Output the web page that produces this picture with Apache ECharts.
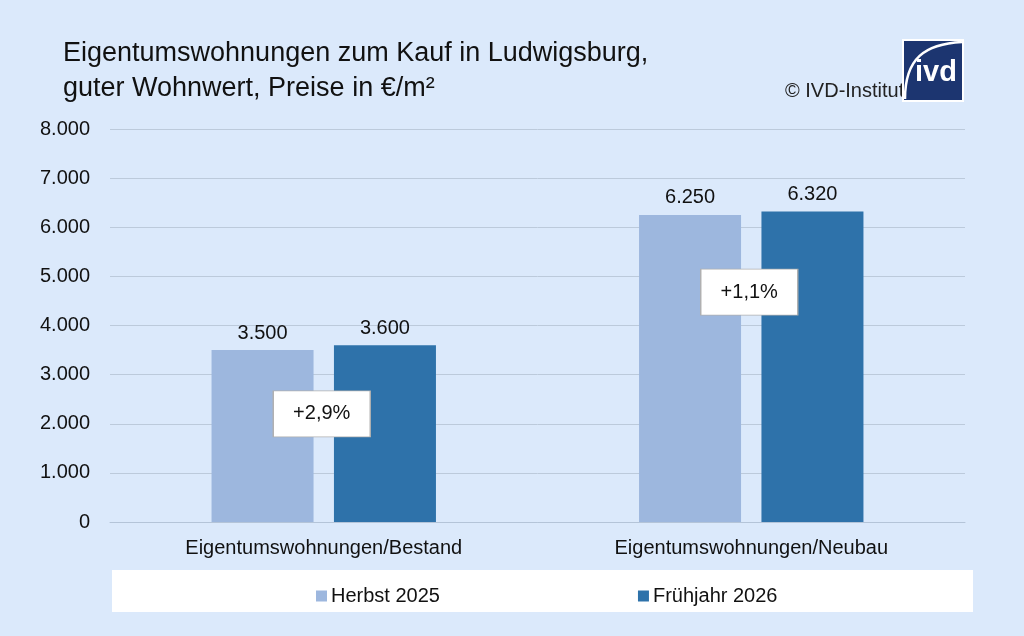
<!DOCTYPE html>
<html>
<head>
<meta charset="utf-8">
<script src="https://cdn.jsdelivr.net/npm/echarts@6/dist/echarts.min.js"></script>
<style>
html, body { margin: 0; padding: 0; background: #dbe9fb; }
#main { width: 1024px; height: 636px; }
</style>
</head>
<body>
<div id="main"></div>
<script>
// Kategorien und Werte
var categories = ['Eigentumswohnungen/Bestand', 'Eigentumswohnungen/Neubau'];
var seriesNames = ['Herbst 2025', 'Frühjahr 2026'];
var herbst = [3500, 6250];
var fruehjahr = [3600, 6320];
// Veränderung, Position der Kästchen (Wert auf der y-Achse)
var changeLabels = ['+2,9%', '+1,1%'];
var changeAt = [2200, 4680];

var FONT = 'Liberation Sans, Arial, sans-serif';

//Tausenderpunkt
function fmt(v) {
    return String(v).replace(/\B(?=(\d{3})+(?!\d))/g, '.');
}

var myChart = echarts.init(document.getElementById('main'));

var boxes = [];
for (var i = 0; i < categories.length; i++) {
    boxes.push({ coord: [categories[i], changeAt[i]], value: changeLabels[i] });
}

var option = {
    backgroundColor: '#dbe9fb',
    textStyle: { fontFamily: FONT },
    title: {
        text: 'Eigentumswohnungen zum Kauf in Ludwigsburg,\nguter Wohnwert, Preise in €/m²',
        left: 58,
        top: 31,
        textStyle: { fontFamily: FONT, fontSize: 27, fontWeight: 'normal', color: '#111', lineHeight: 35 }
    },
    grid: { left: 110, right: 59, top: 129, bottom: 114 },
    legend: {
        data: seriesNames,
        left: 311,
        top: 581,
        itemWidth: 11,
        itemHeight: 11,
        itemGap: 198,
        icon: 'rect',
        textStyle: { fontFamily: FONT, fontSize: 20, color: '#111', padding: [0, 0, 0, -1] }
    },
    xAxis: {
        type: 'category',
        data: categories,
        axisTick: { show: false },
        axisLine: { lineStyle: { color: '#b4c4d8', width: 1 } },
        axisLabel: { fontFamily: FONT, fontSize: 20, color: '#111', margin: 16 }
    },
    yAxis: {
        type: 'value',
        min: 0,
        max: 8000,
        interval: 1000,
        axisLine: { show: false },
        axisTick: { show: false },
        axisLabel: { fontFamily: FONT, fontSize: 20, color: '#111', margin: 20, formatter: fmt },
        splitLine: { lineStyle: { color: '#bccadb', width: 1 } }
    },
    series: [
        {
            name: seriesNames[0],
            type: 'bar',
            data: herbst,
            barWidth: 102,
            barGap: '20%',
            itemStyle: { color: '#9db7de' },
            label: { show: true, position: 'top', distance: 7, fontFamily: FONT, fontSize: 20, color: '#111', formatter: function (p) { return fmt(p.value); } }
        },
        {
            name: seriesNames[1],
            type: 'bar',
            data: fruehjahr,
            barWidth: 102,
            barGap: '20%',
            itemStyle: { color: '#2e72aa' },
            label: { show: true, position: 'top', distance: 7, fontFamily: FONT, fontSize: 20, color: '#111', formatter: function (p) { return fmt(p.value); } }
        },
        {
            name: 'change',
            type: 'scatter',
            data: [],
            silent: true,
            markPoint: {
                symbol: 'rect',
                symbolSize: [97, 46],
                symbolOffset: [-2, 0],
                itemStyle: { color: '#fff', borderColor: '#b0b0b0', borderWidth: 1 },
                label: { show: true, position: 'inside', fontFamily: FONT, fontSize: 20, color: '#111', formatter: function (p) { return p.value; } },
                data: boxes
            }
        }
    ],
    graphic: [
        // weißer Legendenkasten
        { type: 'rect', z: -1, shape: { x: 112, y: 570, width: 861, height: 42 }, style: { fill: '#fff' } },
        { type: 'text', x: 785, y: 91, style: { text: '© IVD-Institut', font: '20px ' + FONT, fill: '#222', verticalAlign: 'middle' } },
        // ivd Logo
        { type: 'rect', shape: { x: 902, y: 39, width: 62, height: 63 }, style: { fill: '#fff' } },
        { type: 'rect', shape: { x: 904, y: 41, width: 58, height: 59 }, style: { fill: '#1c3570' } },
        { type: 'bezierCurve', shape: { x1: 905, y1: 99, x2: 962, y2: 42, cpx1: 905, cpy1: 58, cpx2: 925, cpy2: 44 }, style: { stroke: '#fff', lineWidth: 2.5, fill: null } },
        { type: 'text', x: 936, y: 73, style: { text: 'ivd', font: 'bold 29px ' + FONT, fill: '#fff', align: 'center', verticalAlign: 'middle' } }
    ]
};

myChart.setOption(option);
</script>
</body>
</html>
